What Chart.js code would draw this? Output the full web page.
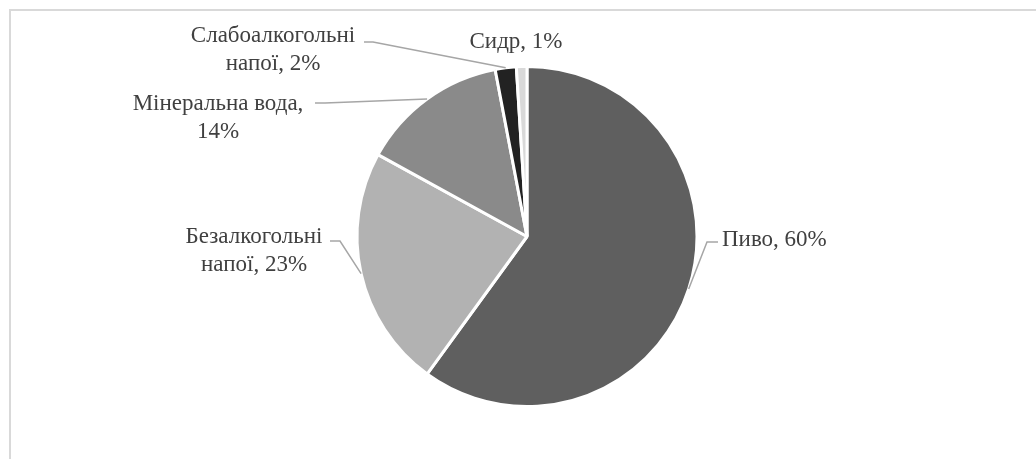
<!DOCTYPE html>
<html>
<head>
<meta charset="utf-8">
<script src="https://cdn.jsdelivr.net/npm/chart.js@4/dist/chart.umd.min.js"></script>
<style>
  html, body { margin: 0; padding: 0; background: #ffffff; }
  #wrap { position: relative; width: 1036px; height: 459px; overflow: hidden; }
  #frame { position: absolute; left: 9px; top: 9px; width: 1100px; height: 500px;
           border-top: 2px solid #d9d9d9; border-left: 2px solid #d9d9d9; }
  canvas { position: absolute; left: 0; top: 0; }
</style>
</head>
<body>
<div id="wrap">
  <div id="frame"></div>
  <canvas id="chart" width="1036" height="459"></canvas>
</div>
<script>
// Market share by beverage category, %
const categories = ['Пиво', 'Безалкогольні напої', 'Мінеральна вода', 'Слабоалкогольні напої', 'Сидр'];
const shares = [60, 23, 14, 2, 1];
const sliceColors = ['#5f5f5f', '#b2b2b2', '#8a8a8a', '#222222', '#d9d9d9'];

// Where each data label sits, where its line breaks, and how its leader line bends
const labelLayout = [
  { x: 722, y: 240, align: 'left',   breakAfter: 0, elbow: [707, 242], end: [718, 242] },
  { x: 254, y: 237, align: 'center', breakAfter: 1, elbow: [340, 241], end: [330, 241] },
  { x: 218, y: 104, align: 'center', breakAfter: 2, elbow: [325, 103], end: [315, 103] },
  { x: 273, y: 36,  align: 'center', breakAfter: 1, elbow: [373, 42],  end: [364, 42] },
  { x: 516, y: 42,  align: 'center', breakAfter: 0, elbow: null,       end: null }
];

const LABEL_FONT = '23px "Liberation Serif", "Times New Roman", serif';
const LINE_HEIGHT = 27.5;

const pieLabels = {
  id: 'pieLabels',
  afterDatasetsDraw(chart) {
    const ctx = chart.ctx;
    const meta = chart.getDatasetMeta(0);
    ctx.save();
    meta.data.forEach((arc, i) => {
      const p = arc.getProps(['x', 'y', 'startAngle', 'endAngle', 'outerRadius'], true);
      const mid = (p.startAngle + p.endAngle) / 2;
      const ex = p.x + Math.cos(mid) * p.outerRadius;
      const ey = p.y + Math.sin(mid) * p.outerRadius;
      const L = labelLayout[i];

      // leader line from the slice edge
      if (L.elbow) {
        ctx.beginPath();
        ctx.strokeStyle = '#a6a6a6';
        ctx.lineWidth = 1.5;
        ctx.moveTo(ex, ey);
        ctx.lineTo(L.elbow[0], L.elbow[1]);
        ctx.lineTo(L.end[0], L.end[1]);
        ctx.stroke();
      }

      // label text: "category, value%"
      const words = (categories[i] + ', ' + shares[i] + '%').split(' ');
      const lines = L.breakAfter
        ? [words.slice(0, L.breakAfter).join(' '), words.slice(L.breakAfter).join(' ')]
        : [words.join(' ')];
      ctx.font = LABEL_FONT;
      ctx.fillStyle = '#404040';
      ctx.textAlign = L.align;
      ctx.textBaseline = 'middle';
      lines.forEach((t, k) => ctx.fillText(t, L.x, L.y + k * LINE_HEIGHT));
    });
    ctx.restore();
  }
};

new Chart(document.getElementById('chart'), {
  type: 'pie',
  data: {
    labels: categories,
    datasets: [{
      data: shares,
      backgroundColor: sliceColors,
      borderColor: '#ffffff',
      borderWidth: 3
    }]
  },
  options: {
    responsive: false,
    animation: false,
    layout: { padding: { top: 65, bottom: 51, left: 18, right: 0 } },
    plugins: {
      legend: { display: false },
      tooltip: { enabled: false }
    }
  },
  plugins: [pieLabels]
});
</script>
</body>
</html>
